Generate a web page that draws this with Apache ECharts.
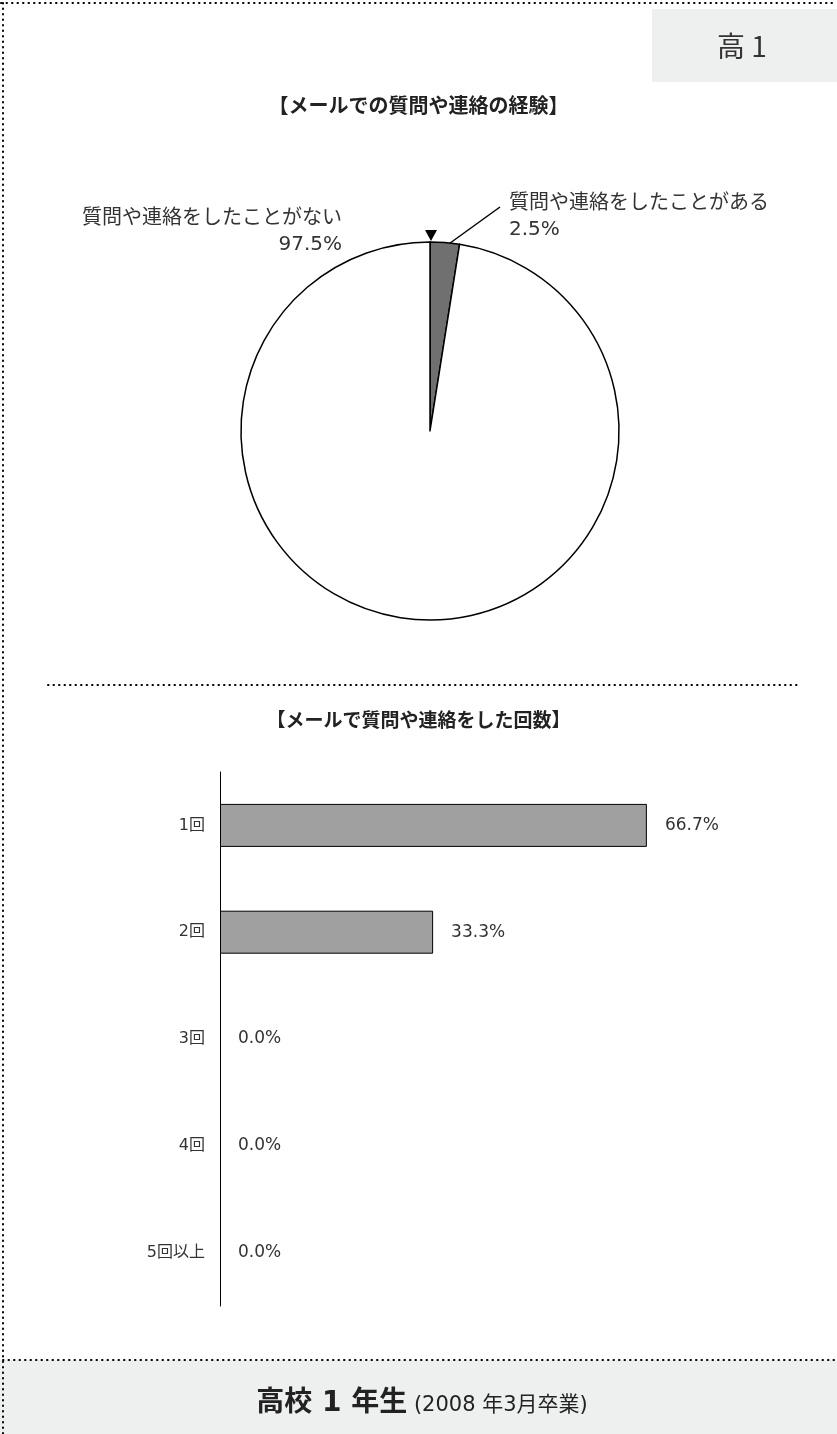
<!DOCTYPE html>
<html>
<head>
<meta charset="utf-8">
<script src="https://cdn.jsdelivr.net/npm/echarts@6/dist/echarts.min.js"></script>
<style>
  html, body { margin: 0; padding: 0; background: #fff; }
  #main { width: 837px; height: 1434px; }
</style>
</head>
<body>
<div id="main"></div>
<script>
// データ
var pieNames = ['質問や連絡をしたことがある', '質問や連絡をしたことがない'];
var pieValues = [2.5, 97.5];
var pieColors = ['#707070', '#ffffff'];

var barCategories = ['1回', '2回', '3回', '4回', '5回以上'];
var barValues = [66.7, 33.3, 0.0, 0.0, 0.0];

var title1 = '【メールでの質問や連絡の経験】';
var title2 = '【メールで質問や連絡をした回数】';
var gradeTag = '高 1';
var footerMain = '高校 1 年生';
var footerSub = '(2008 年3月卒業)';

var FONT = '"DejaVu Sans", "Noto Sans CJK JP", sans-serif';
var CJK = '"Noto Sans CJK JP", sans-serif';
var myChart = echarts.init(document.getElementById('main'));

function dotted(x1, y1, x2, y2) {
    return {
        type: 'line',
        shape: {x1: x1, y1: y1, x2: x2, y2: y2},
        style: {stroke: '#000', lineWidth: 2, lineDash: [0.5, 5], lineCap: 'round'},
        silent: true
    };
}

var option = {
    backgroundColor: '#fff',
    textStyle: {fontFamily: FONT},
    title: [
        {
            text: title1, left: 'center', top: 90,
            textStyle: {fontFamily: CJK, fontSize: 20, fontWeight: 'bold', color: '#222'}
        },
        {
            text: title2, left: 'center', top: 705,
            textStyle: {fontFamily: CJK, fontSize: 19, fontWeight: 'bold', color: '#222'}
        }
    ],
    graphic: [
        {type: 'rect', shape: {x: 652, y: 9, width: 185, height: 73}, style: {fill: '#eeefef'}, silent: true},
        {type: 'text', style: {x: 742, y: 46, text: gradeTag, align: 'center', verticalAlign: 'middle',
            fontFamily: CJK, fontSize: 28, fill: '#333'}},
        {type: 'rect', shape: {x: 0, y: 1360, width: 837, height: 74}, style: {fill: '#eeefef'}, silent: true},
        {type: 'text', style: {x: 422, y: 1404, align: 'center', verticalAlign: 'middle',
            text: '{a|' + footerMain + '}  {b|' + footerSub + '}',
            rich: {
                a: {fontFamily: FONT, fontSize: 28, fontWeight: 'bold', fill: '#222'},
                b: {fontFamily: FONT, fontSize: 21, fill: '#222', padding: [4, 0, 0, 0]}
            }}},
        dotted(1, 3, 837, 3),
        dotted(3, 3, 3, 1434),
        dotted(48, 685, 800, 685),
        dotted(3, 1360, 837, 1360),
        {type: 'polygon', shape: {points: [[425, 230], [437, 230], [431, 241]]}, style: {fill: '#000'}, silent: true}
    ],
    grid: {left: 220, top: 772, height: 534, width: 576},
    xAxis: {type: 'value', min: 0, max: 90, show: false},
    yAxis: {
        type: 'category',
        data: barCategories,
        inverse: true,
        axisLine: {lineStyle: {color: '#000', width: 1}},
        axisTick: {show: false},
        axisLabel: {fontFamily: FONT, fontSize: 16, color: '#333', margin: 15}
    },
    series: [
        {
            type: 'pie',
            center: [430, 431],
            radius: 189,
            startAngle: 90,
            clockwise: true,
            silent: true,
            itemStyle: {borderColor: '#000', borderWidth: 1.5},
            label: {
                fontFamily: FONT, fontSize: 20, color: '#333', lineHeight: 26,
                formatter: function (p) { return p.name + '\n' + p.value.toFixed(1) + '%'; }
            },
            labelLine: {lineStyle: {color: '#000', width: 1.5}},
            labelLayout: function (p) {
                if (p.dataIndex === 0) {
                    return {x: 509, y: 217, align: 'left', verticalAlign: 'middle',
                        labelLinePoints: [[446, 246], [500, 207], [500, 207]]};
                }
                return {x: 342, y: 232, align: 'right', verticalAlign: 'middle'};
            },
            data: pieNames.map(function (n, i) {
                var d = {name: n, value: pieValues[i], itemStyle: {color: pieColors[i]}};
                if (i === 1) {
                    d.label = {align: 'right'};
                    d.labelLine = {show: false};
                } else {
                    d.label = {align: 'left'};
                }
                return d;
            })
        },
        {
            type: 'bar',
            barWidth: 43,
            silent: true,
            itemStyle: {color: '#a0a0a0', borderColor: '#000', borderWidth: 1},
            label: {
                show: true, position: 'right', distance: 18,
                fontFamily: FONT, fontSize: 17, color: '#333',
                formatter: function (p) { return p.value.toFixed(1) + '%'; }
            },
            data: barValues.map(function (v) {
                return v === 0 ? {value: v, itemStyle: {borderWidth: 0}} : v;
            })
        }
    ]
};
myChart.setOption(option);
window.onresize = myChart.resize;
</script>
</body>
</html>
